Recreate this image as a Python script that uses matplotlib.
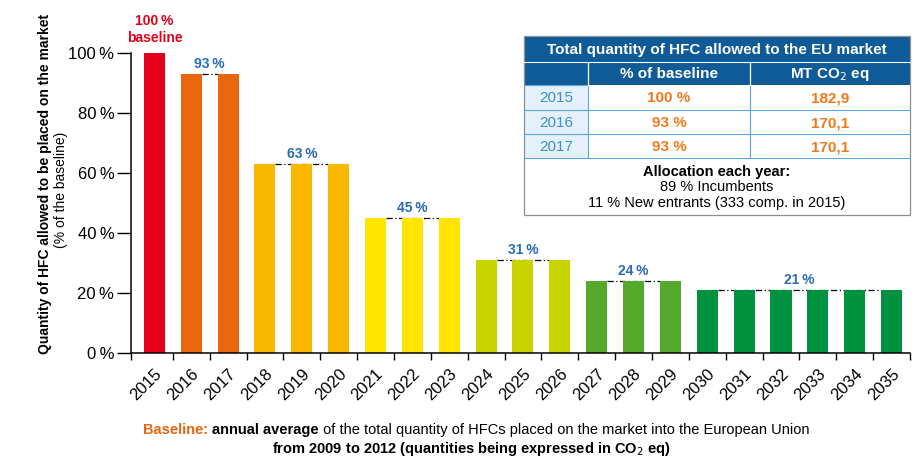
import numpy as np
import matplotlib
matplotlib.use("Agg")
import matplotlib.pyplot as plt
from matplotlib.patches import Rectangle

plt.rcParams['font.family'] = ['Liberation Sans', 'DejaVu Sans']

# data
years = [str(y) for y in range(2015, 2036)]
share = [100, 93, 93, 63, 63, 63, 45, 45, 45, 31, 31, 31, 24, 24, 24,
         21, 21, 21, 21, 21, 21]
bar_colors = ['#E2001A'] + ['#E8660D'] * 2 + ['#F9B700'] * 3 + ['#FFE500'] * 3 \
    + ['#C8D400'] * 3 + ['#56AA2B'] * 3 + ['#00923F'] * 6
# (first index, last index, label) for the step labels
steps = [(1, 2, '93 %'), (3, 5, '63 %'), (6, 8, '45 %'), (9, 11, '31 %'),
         (12, 14, '24 %'), (15, 20, '21 %')]
yticks = [0, 20, 40, 60, 80, 100]

tab_title = 'Total quantity of HFC allowed to the EU market'
tab_cols = ['% of baseline', 'MT CO$_2$ eq']
tab_years = ['2015', '2016', '2017']
tab_pct = ['100 %', '93 %', '93 %']
tab_mt = ['182,9', '170,1', '170,1']

BLUE = '#2A6DB5'
W, H = 922, 467

fig = plt.figure(figsize=(W / 100, H / 100), dpi=100)
ax = fig.add_axes([131 / W, 1 - 353 / H, 779 / W, 300 / H])

x = np.arange(len(years))
ax.bar(x, share, width=0.57, color=bar_colors, zorder=2)
ax.set_xlim(-0.635, 20.5)
ax.set_ylim(0, 100)

for s in ['top', 'right']:
    ax.spines[s].set_visible(False)
for s in ['left', 'bottom']:
    ax.spines[s].set_linewidth(1.1)

ax.set_yticks(yticks, [f'{v}\u2009%' for v in yticks], fontsize=12)
ax.tick_params(axis='y', length=10, width=1, pad=2)
ax.set_xticks([-0.635] + list(np.arange(0.5, 20.6, 1.0)), [])
ax.tick_params(axis='x', length=5, width=1)

for i, yr in enumerate(years):
    ax.annotate(yr, xy=(i, 0), xycoords=('data', 'axes fraction'),
                xytext=(10.5, -13), textcoords='offset pixels',
                rotation=45, ha='right', va='top', fontsize=12)

# baseline label
ax.annotate('100\u2009%\nbaseline', xy=(0, 100), xytext=(0, 6), textcoords='offset points',
            ha='center', va='bottom', color='#E2001A', fontweight='bold',
            fontsize=10, linespacing=1.2, annotation_clip=False)

for a, b, lab in steps:
    v = share[a]
    ax.plot([a + 0.285, b - 0.285], [v, v], color='black', lw=0.9,
            ls=(0, (5, 2, 1, 2)), zorder=1, clip_on=False)
    ax.annotate(lab.replace(' ', '\u2009'), xy=((a + b) / 2, v), xytext=(0, 2.5),
                textcoords='offset points', ha='center', va='bottom',
                color=BLUE, fontweight='bold', fontsize=10, annotation_clip=False)

fig.text(45 / W, 1 - 184 / H, 'Quantity of HFC allowed to be placed on the market',
         rotation=90, ha='center', va='center', fontsize=10, fontweight='bold')
fig.text(61 / W, 1 - 190 / H, '(% of the baseline)', rotation=90,
         ha='center', va='center', fontsize=10)

# overlay in pixel coordinates for table and caption
ov = fig.add_axes([0, 0, 1, 1], zorder=5)
ov.set_xlim(0, W)
ov.set_ylim(H, 0)
ov.axis('off')
ov.patch.set_alpha(0)

HEAD = '#0F5B98'
L, R = 524, 910
c1, c2 = 588, 750
rows = [36, 62, 85, 110, 134, 158, 215]

ov.add_patch(Rectangle((L, rows[0]), R - L, rows[2] - rows[0], color=HEAD, lw=0))
ov.add_patch(Rectangle((L, rows[2]), c1 - L, rows[5] - rows[2], color='#E4F1FB', lw=0))
for yy in rows[3:6]:
    ov.plot([L, R], [yy, yy], color='#5CA8DD', lw=0.8)
ov.plot([L, c1], [rows[2], rows[2]], color='#5CA8DD', lw=0.8)
ov.plot([c1, c1], [rows[1], rows[5]], color='#5CA8DD', lw=0.8)
ov.plot([c2, c2], [rows[1], rows[5]], color='#5CA8DD', lw=0.8)
ov.plot([L, R], [rows[1], rows[1]], color='white', lw=0.8)
ov.plot([c1, c1], [rows[1], rows[2]], color='white', lw=0.9)
ov.plot([c2, c2], [rows[1], rows[2]], color='white', lw=0.9)
ov.add_patch(Rectangle((L, rows[0]), R - L, rows[-1] - rows[0], fill=False,
                       edgecolor='#8F8F8F', lw=0.9))

ov.text((L + R) / 2, (rows[0] + rows[1]) / 2 + 1, tab_title, ha='center', va='center',
        color='white', fontweight='bold', fontsize=11)
ov.text((c1 + c2) / 2, (rows[1] + rows[2]) / 2 + 1, tab_cols[0], ha='center', va='center',
        color='white', fontweight='bold', fontsize=11)
ov.text((c2 + R) / 2, (rows[1] + rows[2]) / 2 + 1, tab_cols[1], ha='center', va='center',
        color='white', fontweight='bold', fontsize=11)
for k in range(3):
    yc = (rows[2 + k] + rows[3 + k]) / 2 + 1
    ov.text((L + c1) / 2, yc, tab_years[k], ha='center', va='center',
            color='#3A8FD0', fontsize=11)
    ov.text((c1 + c2) / 2, yc, tab_pct[k], ha='center', va='center',
            color='#F07A1A', fontweight='bold', fontsize=11)
    ov.text((c2 + R) / 2, yc, tab_mt[k], ha='center', va='center',
            color='#F07A1A', fontweight='bold', fontsize=11)

xc = (L + R) / 2
ov.text(xc, 172, 'Allocation each year:', ha='center', va='center',
        fontweight='bold', fontsize=10.5)
ov.text(xc, 187, '89 % Incumbents', ha='center', va='center', fontsize=10.5)
ov.text(xc, 203, '11 % New entrants (333 comp. in 2015)', ha='center', va='center',
        fontsize=10.5)

# caption
pieces = [('Baseline: ', '#E8660D', 'bold'), ('annual average', 'black', 'bold'),
          (' of the total quantity of HFCs placed on the market into the European Union',
           'black', 'normal')]
t = ov.text(143, 430, pieces[0][0], color=pieces[0][1], fontweight=pieces[0][2],
            ha='left', va='center', fontsize=10.5)
for txt, col, fw in pieces[1:]:
    t = ov.annotate(txt, xy=(1, 0), xycoords=t, ha='left', va='bottom',
                    color=col, fontweight=fw, fontsize=10.5)
ov.text(471, 449, 'from 2009 to 2012 (quantities being expressed in CO$_2$ eq)',
        ha='center', va='center', fontweight='bold', fontsize=10.5)

fig.savefig('out.png', dpi=100)
